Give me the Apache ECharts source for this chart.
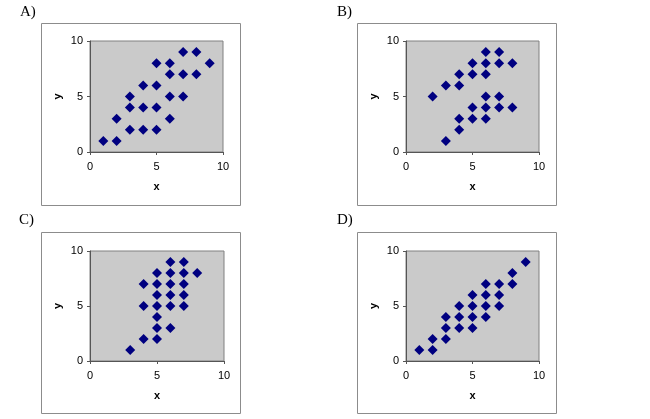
<!DOCTYPE html>
<html>
<head>
<meta charset="utf-8">
<script src="https://cdn.jsdelivr.net/npm/echarts@6/dist/echarts.min.js"></script>
<style>
  html, body { margin: 0; padding: 0; background: #fff; }
  #main { width: 650px; height: 419px; }
</style>
</head>
<body>
<div id="main"></div>
<script>
// data
const panelNames = ['A)', 'B)', 'C)', 'D)'];
const ticks = [0, 5, 10];

const aX = [1, 2, 2, 3, 3, 3, 4, 4, 4, 5, 5, 5, 5, 6, 6, 6, 6, 7, 7, 7, 8, 8, 9];
const aY = [1, 1, 3, 2, 4, 5, 2, 4, 6, 2, 4, 6, 8, 3, 5, 7, 8, 5, 7, 9, 7, 9, 8];

const bX = [2, 3, 3, 4, 4, 4, 4, 5, 5, 5, 5, 6, 6, 6, 6, 6, 6, 7, 7, 7, 7, 8, 8];
const bY = [5, 1, 6, 2, 3, 6, 7, 3, 4, 7, 8, 3, 4, 5, 7, 8, 9, 4, 5, 8, 9, 4, 8];

const cX = [3, 4, 4, 4, 5, 5, 5, 5, 5, 5, 5, 6, 6, 6, 6, 6, 6, 7, 7, 7, 7, 7, 8];
const cY = [1, 2, 5, 7, 2, 3, 4, 5, 6, 7, 8, 3, 5, 6, 7, 8, 9, 5, 6, 7, 8, 9, 8];

const dX = [1, 2, 2, 3, 3, 3, 4, 4, 4, 5, 5, 5, 5, 6, 6, 6, 6, 7, 7, 7, 8, 8, 9];
const dY = [1, 1, 2, 2, 3, 4, 3, 4, 5, 3, 4, 5, 6, 4, 5, 6, 7, 5, 6, 7, 7, 8, 9];

const panelX = [aX, bX, cX, dX];
const panelY = [aY, bY, cY, dY];

// layout of each panel: outer frame, plot area, label spot
const frames = [
  { box: [41, 23, 199, 182], grid: [90, 41, 133, 111], label: [20, 13] },
  { box: [357, 23, 199, 182], grid: [406, 41, 133, 111], label: [337, 13] },
  { box: [41, 232, 199, 181], grid: [90, 251, 134, 110], label: [19, 221] },
  { box: [357, 232, 199, 181], grid: [406, 251, 133, 110], label: [337, 221] }
];

const chart = echarts.init(document.getElementById('main'));

const grids = [], xAxes = [], yAxes = [], series = [], graphics = [];

frames.forEach(function (f, i) {
  graphics.push({
    type: 'rect', z: -10, silent: true,
    shape: { x: f.box[0] + 0.5, y: f.box[1] + 0.5, width: f.box[2], height: f.box[3] },
    style: { fill: '#fff', stroke: '#8c8c8c', lineWidth: 1 }
  });
  graphics.push({
    type: 'text', left: f.label[0], top: f.label[1] - 8,
    style: { text: panelNames[i], font: '15px "Liberation Serif", serif', fill: '#000' }
  });

  grids.push({
    left: f.grid[0], top: f.grid[1], width: f.grid[2], height: f.grid[3],
    show: true, backgroundColor: '#cacaca', borderColor: '#808080', borderWidth: 1
  });

  const axisCommon = {
    gridIndex: i, type: 'value', min: ticks[0], max: ticks[2], interval: ticks[1] - ticks[0],
    axisLine: { show: true, lineStyle: { color: '#555', width: 1 } },
    axisTick: { show: true, inside: false, length: 3, lineStyle: { color: '#555' } },
    splitLine: { show: false },
    nameLocation: 'middle',
    nameTextStyle: { fontFamily: 'Liberation Sans, Arial', fontWeight: 'bold', fontSize: 11, color: '#000' }
  };
  xAxes.push(Object.assign({}, axisCommon, {
    name: 'x', nameGap: 29,
    axisLabel: { fontFamily: 'Liberation Sans, Arial', fontSize: 11, color: '#000', margin: 9 }
  }));
  yAxes.push(Object.assign({}, axisCommon, {
    name: 'y', nameGap: 27,
    axisLabel: { fontFamily: 'Liberation Sans, Arial', fontSize: 11, color: '#000', margin: 7 }
  }));

  series.push({
    type: 'scatter', xAxisIndex: i, yAxisIndex: i,
    symbol: 'diamond', symbolSize: [10, 10],
    itemStyle: { color: '#000080', opacity: 1 },
    data: panelX[i].map(function (x, k) { return [x, panelY[i][k]]; })
  });
});

chart.setOption({
  animation: false,
  backgroundColor: '#fff',
  graphic: graphics,
  grid: grids,
  xAxis: xAxes,
  yAxis: yAxes,
  series: series
});
</script>
</body>
</html>
